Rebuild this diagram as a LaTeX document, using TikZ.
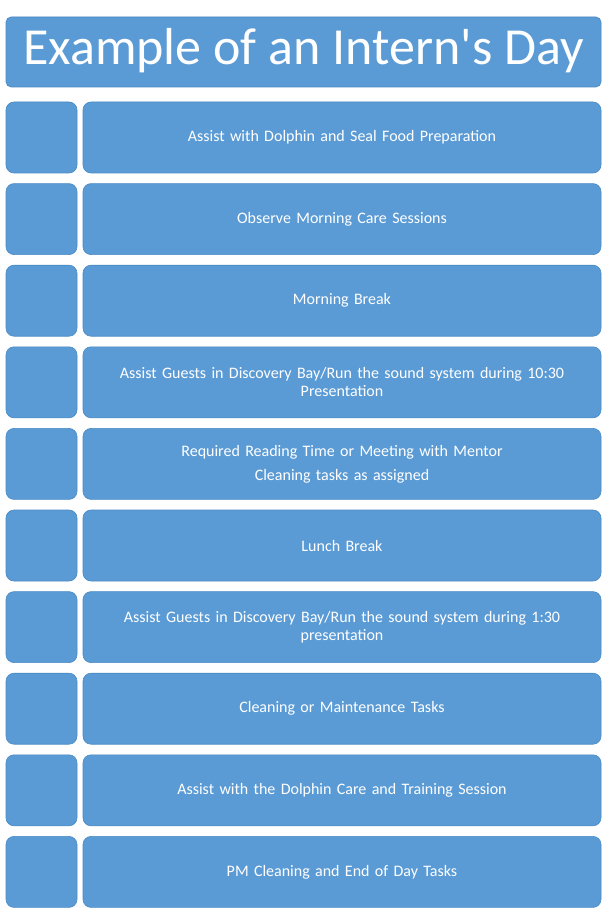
\documentclass[tikz,border=0pt]{standalone}
\usepackage{fontspec}
\setmainfont{Carlito}
\newfontfamily\plainfont[Mapping=]{Carlito}
\definecolor{boxblue}{HTML}{5B9BD5}
\definecolor{edge}{HTML}{4A8AC4}
\begin{document}
\begin{tikzpicture}[x=1pt,y=1pt,
  box/.style={fill=boxblue,draw=edge,line width=0.6pt,rounded corners=8pt},
  lbl/.style={text=white,font=\fontsize{16}{18}\selectfont,align=center,text width=500pt}]
\useasboundingbox (0,0) rectangle (606,-909);
\fill[white] (0,0) rectangle (606,-909);
\draw[box,rounded corners=5pt] (6,-17) rectangle (601,-87);
\node[text=white,font=\fontsize{52}{56}\selectfont] (title) at (303.5,-51) {Example of an Intern{\plainfont\symbol{39}}s Day};
\foreach \i/\t in {0/{Assist with Dolphin and Seal Food Preparation},
 1/{Observe Morning Care Sessions},
 2/{Morning Break},
 3/{Assist Guests in Discovery Bay/Run the sound system during 10:30\\Presentation},
 4/{Required Reading Time or Meeting with Mentor\\[6pt]Cleaning tasks as assigned},
 5/{Lunch Break},
 6/{Assist Guests in Discovery Bay/Run the sound system during 1:30\\presentation},
 7/{Cleaning or Maintenance Tasks},
 8/{Assist with the Dolphin Care and Training Session},
 9/{PM Cleaning and End of Day Tasks}}{
  \pgfmathsetmacro{\top}{-102-81.6*\i}
  \draw[box] (6,\top) rectangle (77,\top-71);
  \draw[box] (83,\top) rectangle (601,\top-71);
  \node[lbl] (t\i) at (342,\top-35.5) {\t};
}
\end{tikzpicture}
\end{document}
